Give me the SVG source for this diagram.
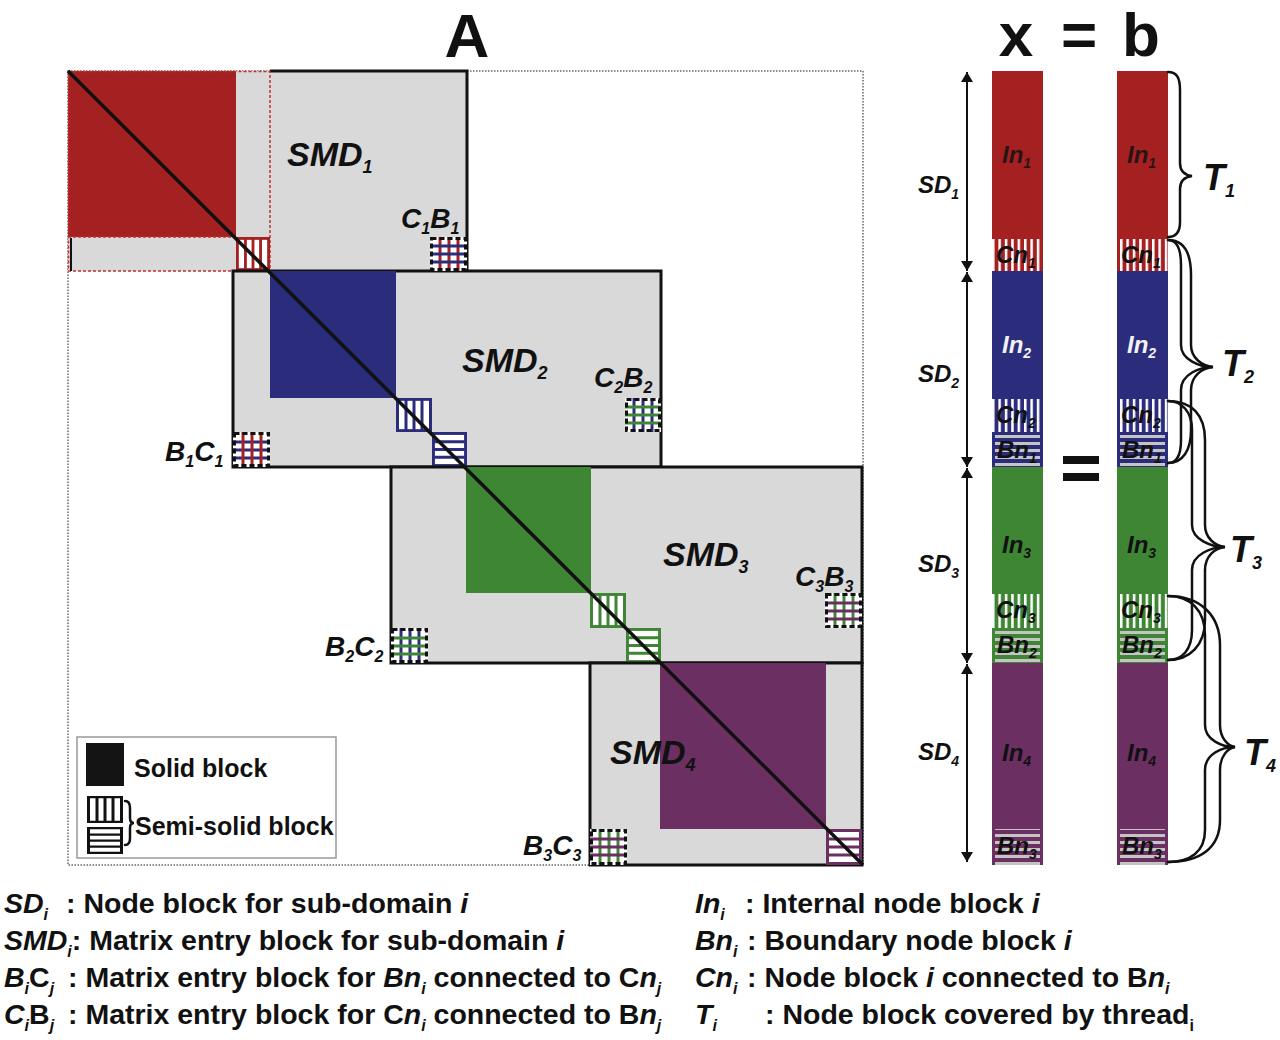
<svg xmlns="http://www.w3.org/2000/svg" xmlns:xlink="http://www.w3.org/1999/xlink" width="1280" height="1040" viewBox="0 0 1280 1040">
<style>
.t{font-family:"Liberation Sans",Arial,Helvetica,sans-serif;font-weight:bold;fill:#111}
.bi{font-style:italic}
.smd{font-size:34px}
.lbl{font-size:28px}
.col{font-size:24px}
.sd{font-size:24px}
.tl{font-size:36px}
.leg{font-size:25px}
.note{font-size:28.5px}
.smdbox{fill:#d9d9d9;stroke:#111;stroke-width:3}
.brace{fill:none;stroke:#111;stroke-width:2.5;stroke-linecap:round}
.xdash{fill:none;stroke:#111;stroke-width:3;stroke-dasharray:5 3}
</style>
<defs>
<symbol id="vh" viewBox="0 0 36 36" preserveAspectRatio="none">
<rect x="1.5" y="1.5" width="33" height="33" fill="#fff" stroke="currentColor" stroke-width="3"/>
<path d="M10 0V36M18 0V36M26 0V36" stroke="currentColor" stroke-width="3"/>
</symbol>
<symbol id="hh" viewBox="0 0 36 36" preserveAspectRatio="none">
<rect x="1.5" y="1.5" width="33" height="33" fill="#fff" stroke="currentColor" stroke-width="3"/>
<path d="M0 10H36M0 18H36M0 26H36" stroke="currentColor" stroke-width="3"/>
</symbol>
<pattern id="vs" width="6.4" height="4" patternUnits="userSpaceOnUse"><rect width="2.5" height="4" fill="#fff"/></pattern>
<pattern id="hs" width="4" height="7" patternUnits="userSpaceOnUse"><rect y="1" width="4" height="3" fill="#c4c4c4"/></pattern>
<marker id="ah" viewBox="0 0 10 12" refX="10" refY="6" markerWidth="10" markerHeight="12" markerUnits="userSpaceOnUse" orient="auto-start-reverse">
<path d="M0 0L10 6L0 12z" fill="#111"/>
</marker>
</defs>
<rect width="1280" height="1040" fill="#fff"/>

<!-- Titles -->
<text class="t" x="467" y="57" text-anchor="middle" font-size="62">A</text>
<text class="t" x="1016" y="56" text-anchor="middle" font-size="62">x</text>
<text class="t" x="1079" y="56" text-anchor="middle" font-size="62">=</text>
<text class="t" x="1141" y="56" text-anchor="middle" font-size="62">b</text>

<!-- Matrix A -->
<g id="matrix-frame">
<rect x="68" y="71" width="795" height="794" fill="none" stroke="#666" stroke-width="1.5" stroke-dasharray="1.5 1.5"/>
</g>

<g id="smd1">
<rect x="68" y="71" width="399" height="200" fill="#d9d9d9"/>
<path d="M270 71H467V271" fill="none" stroke="#111" stroke-width="3"/>
<rect x="68" y="71" width="168" height="166" fill="#a52121"/>
<rect x="68.5" y="71.5" width="201.5" height="199.5" fill="none" stroke="#c0302c" stroke-width="1.5" stroke-dasharray="3 2"/>
<path d="M68 237H236" stroke="#c0302c" stroke-width="1.5" stroke-dasharray="3 2"/>
<path d="M71 238V271" stroke="#111" stroke-width="2"/>
<use xlink:href="#vh" x="236" y="237" width="34" height="34" style="color:#a52121"/>
<text class="t bi smd" x="287" y="166">SMD<tspan font-size="18" dy="7">1</tspan></text>
</g>

<g id="smd2">
<rect class="smdbox" x="233" y="271" width="428" height="196"/>
<rect x="270" y="271" width="126" height="127" fill="#2c2c7c"/>
<use xlink:href="#vh" x="396" y="398" width="36" height="34" style="color:#2c2c7c"/>
<use xlink:href="#hh" x="432" y="432" width="35" height="35" style="color:#2c2c7c"/>
<text class="t bi smd" x="462" y="372">SMD<tspan font-size="18" dy="7">2</tspan></text>
</g>

<g id="smd3">
<rect class="smdbox" x="391" y="467" width="471" height="196"/>
<rect x="466" y="467" width="125" height="126" fill="#3e8634"/>
<use xlink:href="#vh" x="590" y="593" width="36" height="35" style="color:#3e8634"/>
<use xlink:href="#hh" x="626" y="628" width="35" height="35" style="color:#3e8634"/>
<text class="t bi smd" x="663" y="566">SMD<tspan font-size="18" dy="7">3</tspan></text>
</g>

<g id="smd4">
<rect class="smdbox" x="590" y="663" width="272" height="202"/>
<rect x="660" y="663" width="166" height="166" fill="#6c2f62"/>
<use xlink:href="#hh" x="826" y="829" width="36" height="36" style="color:#6c2f62"/>
<text class="t bi smd" x="610" y="764">SMD<tspan font-size="18" dy="7">4</tspan></text>
</g>

<g id="diagonal">
<path d="M68 71L863 865" stroke="#111" stroke-width="3.5"/>
</g>

<g id="c1b1">
<rect x="430" y="237" width="37" height="34" fill="#fff"/>
<path d="M440 237V271M449 237V271M458 237V271" stroke="#a52121" stroke-width="3"/>
<path d="M430 246H467M430 254H467M430 262H467" stroke="#2c2c7c" stroke-width="3"/>
<rect class="xdash" x="431.5" y="238.5" width="34" height="31"/>
<text class="t bi lbl" x="401" y="228">C<tspan font-size="16" dy="6">1</tspan><tspan dy="-6">B</tspan><tspan font-size="16" dy="6">1</tspan></text>
</g>

<g id="b1c1">
<rect x="233" y="432" width="37" height="35" fill="#fff"/>
<path d="M233 442H270M233 450H270M233 458H270" stroke="#2c2c7c" stroke-width="3"/>
<path d="M243 432V467M252 432V467M261 432V467" stroke="#a52121" stroke-width="3"/>
<rect class="xdash" x="234.5" y="433.5" width="34" height="32"/>
<text class="t bi lbl" x="165" y="461">B<tspan font-size="16" dy="6">1</tspan><tspan dy="-6">C</tspan><tspan font-size="16" dy="6">1</tspan></text>
</g>

<g id="c2b2">
<rect x="625" y="398" width="36" height="34" fill="#fff"/>
<path d="M634 398V432M643 398V432M652 398V432" stroke="#2c2c7c" stroke-width="3"/>
<path d="M625 407H661M625 415H661M625 423H661" stroke="#3e8634" stroke-width="3"/>
<rect class="xdash" x="626.5" y="399.5" width="33" height="31"/>
<text class="t bi lbl" x="594" y="387">C<tspan font-size="16" dy="6">2</tspan><tspan dy="-6">B</tspan><tspan font-size="16" dy="6">2</tspan></text>
</g>

<g id="b2c2">
<rect x="391" y="628" width="37" height="35" fill="#fff"/>
<path d="M401 628V663M410 628V663M419 628V663" stroke="#2c2c7c" stroke-width="3"/>
<path d="M391 638H428M391 646H428M391 654H428" stroke="#3e8634" stroke-width="3"/>
<rect class="xdash" x="392.5" y="629.5" width="34" height="32"/>
<text class="t bi lbl" x="325" y="656">B<tspan font-size="16" dy="6">2</tspan><tspan dy="-6">C</tspan><tspan font-size="16" dy="6">2</tspan></text>
</g>

<g id="c3b3">
<rect x="825" y="593" width="37" height="35" fill="#fff"/>
<path d="M835 593V628M844 593V628M853 593V628" stroke="#3e8634" stroke-width="3"/>
<path d="M825 603H862M825 611H862M825 619H862" stroke="#6c2f62" stroke-width="3"/>
<rect class="xdash" x="826.5" y="594.5" width="34" height="32"/>
<text class="t bi lbl" x="795" y="586">C<tspan font-size="16" dy="6">3</tspan><tspan dy="-6">B</tspan><tspan font-size="16" dy="6">3</tspan></text>
</g>

<g id="b3c3">
<rect x="590" y="829" width="37" height="36" fill="#fff"/>
<path d="M600 829V865M609 829V865M618 829V865" stroke="#3e8634" stroke-width="3"/>
<path d="M590 839H627M590 847H627M590 855H627" stroke="#6c2f62" stroke-width="3"/>
<rect class="xdash" x="591.5" y="830.5" width="34" height="33"/>
<text class="t bi lbl" x="523" y="855">B<tspan font-size="16" dy="6">3</tspan><tspan dy="-6">C</tspan><tspan font-size="16" dy="6">3</tspan></text>
</g>

<g id="legend">
<rect x="77" y="737" width="259" height="121" fill="#fff" stroke="#999" stroke-width="1.5"/>
<rect x="86" y="743" width="38" height="43" fill="#141414"/>
<text class="t leg" x="134" y="777">Solid block</text>
<use xlink:href="#vh" x="87" y="796" width="36" height="27" style="color:#111"/>
<use xlink:href="#hh" x="87" y="827" width="36" height="27" style="color:#111"/>
<path class="brace" d="M125 801Q130 801 130 808V818Q130 823 134 823Q130 823 130 828V838Q130 845 125 845"/>
<text class="t leg" x="135" y="835">Semi-solid block</text>
</g>

<!-- Vectors x and b -->
<g id="vector-x">
<rect x="992" y="71" width="51" height="200" fill="#a52121"/>
<rect x="992" y="271" width="51" height="196" fill="#2c2c7c"/>
<rect x="992" y="467" width="51" height="196" fill="#3e8634"/>
<rect x="992" y="663" width="51" height="202" fill="#6c2f62"/>
<rect x="992" y="239" width="51" height="32" fill="url(#vs)"/>
<rect x="992" y="399" width="51" height="33" fill="url(#vs)"/>
<rect x="992" y="594" width="51" height="34" fill="url(#vs)"/>
<rect x="995" y="433" width="45" height="34" fill="url(#hs)"/>
<rect x="995" y="629" width="45" height="34" fill="url(#hs)"/>
<rect x="995" y="829" width="45" height="36" fill="url(#hs)"/>
<text class="t bi col" x="1002" y="163" fill-opacity="0.85">In<tspan font-size="14" dy="5">1</tspan></text>
<text class="t bi col" x="1002" y="353" style="fill:#f2f2f2">In<tspan font-size="14" dy="5">2</tspan></text>
<text class="t bi col" x="1002" y="553">In<tspan font-size="14" dy="5">3</tspan></text>
<text class="t bi col" x="1002" y="761">In<tspan font-size="14" dy="5">4</tspan></text>
<text class="t bi col" x="996" y="263">Cn<tspan font-size="14" dy="5">1</tspan></text>
<text class="t bi col" x="996" y="423">Cn<tspan font-size="14" dy="5">2</tspan></text>
<text class="t bi col" x="996" y="618">Cn<tspan font-size="14" dy="5">3</tspan></text>
<text class="t bi col" x="997" y="458">Bn<tspan font-size="14" dy="5">1</tspan></text>
<text class="t bi col" x="997" y="653">Bn<tspan font-size="14" dy="5">2</tspan></text>
<text class="t bi col" x="997" y="854">Bn<tspan font-size="14" dy="5">3</tspan></text>
</g>

<g id="vector-b">
<rect x="1117" y="71" width="51" height="200" fill="#a52121"/>
<rect x="1117" y="271" width="51" height="196" fill="#2c2c7c"/>
<rect x="1117" y="467" width="51" height="196" fill="#3e8634"/>
<rect x="1117" y="663" width="51" height="202" fill="#6c2f62"/>
<rect x="1117" y="239" width="51" height="32" fill="url(#vs)"/>
<rect x="1117" y="399" width="51" height="33" fill="url(#vs)"/>
<rect x="1117" y="594" width="51" height="34" fill="url(#vs)"/>
<rect x="1120" y="433" width="45" height="34" fill="url(#hs)"/>
<rect x="1120" y="629" width="45" height="34" fill="url(#hs)"/>
<rect x="1120" y="829" width="45" height="36" fill="url(#hs)"/>
<text class="t bi col" x="1127" y="163" fill-opacity="0.85">In<tspan font-size="14" dy="5">1</tspan></text>
<text class="t bi col" x="1127" y="353" style="fill:#f2f2f2">In<tspan font-size="14" dy="5">2</tspan></text>
<text class="t bi col" x="1127" y="553">In<tspan font-size="14" dy="5">3</tspan></text>
<text class="t bi col" x="1127" y="761">In<tspan font-size="14" dy="5">4</tspan></text>
<text class="t bi col" x="1121" y="263">Cn<tspan font-size="14" dy="5">1</tspan></text>
<text class="t bi col" x="1121" y="423">Cn<tspan font-size="14" dy="5">2</tspan></text>
<text class="t bi col" x="1121" y="618">Cn<tspan font-size="14" dy="5">3</tspan></text>
<text class="t bi col" x="1122" y="458">Bn<tspan font-size="14" dy="5">1</tspan></text>
<text class="t bi col" x="1122" y="653">Bn<tspan font-size="14" dy="5">2</tspan></text>
<text class="t bi col" x="1122" y="854">Bn<tspan font-size="14" dy="5">3</tspan></text>
</g>

<g id="equals">
<rect x="1063" y="456" width="36" height="8" fill="#111"/>
<rect x="1063" y="473" width="36" height="8" fill="#111"/>
</g>

<g id="sd-labels">
<text class="t bi sd" x="918" y="193">SD<tspan font-size="14" dy="6">1</tspan></text>
<text class="t bi sd" x="918" y="382">SD<tspan font-size="14" dy="6">2</tspan></text>
<text class="t bi sd" x="918" y="572">SD<tspan font-size="14" dy="6">3</tspan></text>
<text class="t bi sd" x="918" y="760">SD<tspan font-size="14" dy="6">4</tspan></text>
</g>

<g id="t-labels">
<text class="t bi tl" x="1203" y="190">T<tspan font-size="18" dy="7">1</tspan></text>
<text class="t bi tl" x="1222" y="376">T<tspan font-size="18" dy="7">2</tspan></text>
<text class="t bi tl" x="1230" y="562">T<tspan font-size="18" dy="7">3</tspan></text>
<text class="t bi tl" x="1244" y="765">T<tspan font-size="18" dy="7">4</tspan></text>
</g>

<g id="connectors">
<path d="M967 72V271" stroke="#111" stroke-width="2" marker-start="url(#ah)" marker-end="url(#ah)"/>
<path d="M967 272V467" stroke="#111" stroke-width="2" marker-start="url(#ah)" marker-end="url(#ah)"/>
<path d="M967 468V663" stroke="#111" stroke-width="2" marker-start="url(#ah)" marker-end="url(#ah)"/>
<path d="M967 664V862" stroke="#111" stroke-width="2" marker-start="url(#ah)" marker-end="url(#ah)"/>
<path class="brace" stroke-width="3" d="M1168 72C1177 72 1180 78 1180 90L1180 163C1180 171 1184 175 1192 176C1184 177 1180 181 1180 189L1180 222C1180 232 1176 237 1168 237"/>
<path class="brace" d="M1168 240C1178 240 1181 250 1181 265L1181 345C1181 360 1200 367 1213 367C1200 367 1181 374 1181 390L1181 440C1181 455 1177 463 1168 463"/>
<path class="brace" d="M1168 240C1185 240 1191 255 1191 275L1191 345C1191 358 1202 366 1213 367C1202 368 1191 376 1191 390L1191 430C1191 450 1183 463 1168 463"/>
<path class="brace" d="M1168 401C1182 401 1192 412 1192 430L1192 525C1192 540 1212 547 1225 547C1212 547 1192 554 1192 570L1192 630C1192 650 1182 660 1168 660"/>
<path class="brace" d="M1168 401C1192 401 1205 415 1205 440L1205 525C1205 538 1215 546 1225 547C1215 548 1205 556 1205 570L1205 620C1205 645 1190 660 1168 660"/>
<path class="brace" d="M1168 596C1190 596 1205 610 1205 635L1205 725C1205 740 1222 747 1235 747C1222 747 1205 754 1205 770L1205 830C1205 852 1190 862 1168 862"/>
<path class="brace" d="M1168 596C1200 596 1220 615 1220 645L1220 725C1220 738 1228 746 1235 747C1228 748 1220 756 1220 770L1220 820C1220 848 1200 862 1168 862"/>
</g>

<g id="notes">
<text class="t note" x="4" y="913"><tspan class="bi">SD</tspan><tspan class="bi" font-size="16" dy="7">i</tspan><tspan x="66" dy="-7">: Node block for sub-domain </tspan><tspan class="bi">i</tspan></text>
<text class="t note" x="4" y="950"><tspan class="bi">SMD</tspan><tspan class="bi" font-size="16" dy="7">i</tspan><tspan dy="-7">: Matrix entry block for sub-domain </tspan><tspan class="bi">i</tspan></text>
<text class="t note" x="4" y="987"><tspan class="bi">B</tspan><tspan class="bi" font-size="16" dy="7">i</tspan><tspan dy="-7">C</tspan><tspan class="bi" font-size="16" dy="7">j</tspan><tspan x="68" dy="-7">: Matrix entry block for </tspan><tspan class="bi">Bn</tspan><tspan class="bi" font-size="16" dy="7">i</tspan><tspan dy="-7"> connected to C</tspan><tspan class="bi">n</tspan><tspan class="bi" font-size="16" dy="7">j</tspan></text>
<text class="t note" x="4" y="1024"><tspan class="bi">C</tspan><tspan class="bi" font-size="16" dy="7">i</tspan><tspan dy="-7">B</tspan><tspan class="bi" font-size="16" dy="7">j</tspan><tspan x="68" dy="-7">: Matrix entry block for C</tspan><tspan class="bi">n</tspan><tspan class="bi" font-size="16" dy="7">i</tspan><tspan dy="-7"> connected to B</tspan><tspan class="bi">n</tspan><tspan class="bi" font-size="16" dy="7">j</tspan></text>
<text class="t note" x="695" y="913"><tspan class="bi">In</tspan><tspan class="bi" font-size="16" dy="7">i</tspan><tspan x="745" dy="-7">: Internal node block </tspan><tspan class="bi">i</tspan></text>
<text class="t note" x="695" y="950"><tspan class="bi">Bn</tspan><tspan class="bi" font-size="16" dy="7">i</tspan><tspan x="747" dy="-7">: Boundary node block </tspan><tspan class="bi">i</tspan></text>
<text class="t note" x="695" y="987"><tspan class="bi">Cn</tspan><tspan class="bi" font-size="16" dy="7">i</tspan><tspan x="747" dy="-7">: Node block </tspan><tspan class="bi">i</tspan><tspan> connected to B</tspan><tspan class="bi">n</tspan><tspan class="bi" font-size="16" dy="7">i</tspan></text>
<text class="t note" x="695" y="1024"><tspan class="bi">T</tspan><tspan class="bi" font-size="16" dy="7">i</tspan><tspan x="765" dy="-7">: Node block covered by thread</tspan><tspan font-size="16" dy="7">i</tspan></text>
</g>
</svg>
